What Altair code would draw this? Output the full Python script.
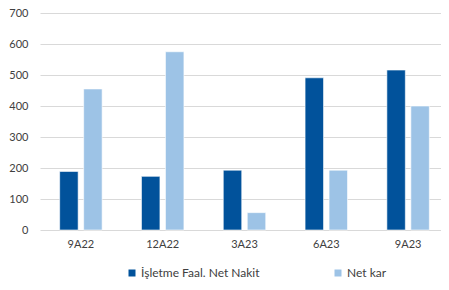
import altair as alt
import pandas as pd

categories = ["9A22", "12A22", "3A23", "6A23", "9A23"]
series_names = ["İşletme Faal. Net Nakit", "Net kar"]
nakit = [189, 173, 193, 491, 516]
netkar = [455, 575, 56, 193, 400]
colors = ["#01529B", "#9DC3E6"]

rows = []
for i, c in enumerate(categories):
    rows.append({"cat": c, "series": series_names[0], "value": nakit[i]})
    rows.append({"cat": c, "series": series_names[1], "value": netkar[i]})
df = pd.DataFrame(rows)

FONT = "Lato"

chart = alt.Chart(df).mark_bar(stroke="#ffffff", strokeWidth=1, strokeOpacity=0.6).encode(
    x=alt.X("cat:N", sort=categories, title=None,
            scale=alt.Scale(paddingInner=0, paddingOuter=0, range=[0, 409]),
            axis=alt.Axis(labelAngle=0, domain=False, ticks=False, labelPadding=8,
                          labelFontSize=11, labelColor="#404040", labelFont=FONT)),
    xOffset=alt.XOffset("series:N", sort=series_names,
                        scale=alt.Scale(paddingInner=0.23, paddingOuter=0.82)),
    y=alt.Y("value:Q", title=None,
            scale=alt.Scale(domain=[0, 700], nice=False),
            axis=alt.Axis(values=[0, 100, 200, 300, 400, 500, 600, 700], domain=False, ticks=False,
                          labelPadding=12, labelFontSize=11, labelColor="#404040", labelFont=FONT,
                          gridColor="#d9d9d9", gridWidth=1)),
    color=alt.Color("series:N", sort=series_names,
                    scale=alt.Scale(domain=series_names, range=colors),
                    legend=alt.Legend(title=None, orient="none", direction="horizontal",
                                      legendX=86, legendY=254, columns=2, columnPadding=72,
                                      symbolType="square", symbolSize=49, symbolStrokeWidth=0,
                                      labelFontSize=12, labelColor="#404040", labelFont=FONT,
                                      labelOffset=3, padding=0)),
).properties(
    width=401, height=217,
    padding={"left": 32, "top": 5, "right": 0, "bottom": 52},
    autosize=alt.AutoSizeParams(type="none"),
).configure_view(stroke=None)

chart.save("out.html", embed_options={"renderer": "svg", "actions": False})
